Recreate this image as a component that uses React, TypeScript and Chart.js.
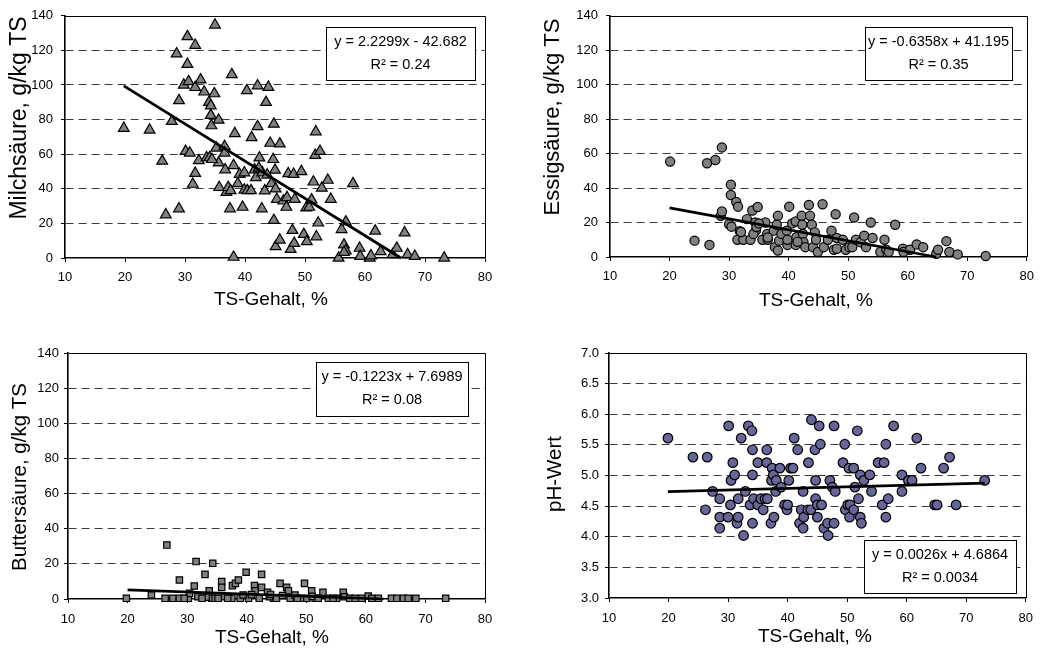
import { useEffect, useRef } from 'react';
import { Chart, registerables } from 'chart.js';

Chart.register(...registerables);

const FONT = "'Liberation Sans', Arial, Helvetica, sans-serif";

// ---------- axes ----------
const xAxisTitle = 'TS-Gehalt, %';
const xTickValues = [10, 20, 30, 40, 50, 60, 70, 80];
const acidTickValues = [0, 20, 40, 60, 80, 100, 120, 140];
const phTickValues = [3.0, 3.5, 4.0, 4.5, 5.0, 5.5, 6.0, 6.5, 7.0];

// ---------- Milchsäure ----------
const milchTitle = 'Milchsäure, g/kg TS';
const milchX = [19.8,24.1,26.2,26.8,27.8,28.6,29.0,29.0,29.8,30.1,30.4,30.4,30.6,30.8,31.3,31.7,31.7,31.7,32.3,32.6,33.2,33.6,34.1,34.0,34.3,34.3,34.4,34.9,35.0,35.2,35.6,35.6,35.7,36.6,36.6,36.7,36.9,37.2,37.5,37.6,37.8,38.1,38.1,38.3,38.8,39.1,39.6,39.9,39.9,40.3,40.4,41.0,41.1,41.6,41.8,42.1,42.1,42.4,42.8,42.9,43.3,43.5,43.9,44.2,44.4,44.7,44.8,44.8,45.0,45.1,45.1,45.3,45.8,45.8,46.4,46.9,47.0,47.2,47.6,47.9,48.1,48.2,48.3,49.4,49.8,50.2,50.3,50.7,51.1,51.4,51.7,51.8,51.9,52.2,52.5,52.8,53.8,54.3,55.6,56.1,56.5,56.8,56.8,58.0,59.1,59.2,60.8,61.0,61.7,62.6,64.6,65.3,66.6,67.1,68.3,73.2,34.5,42.3,43.7,56.5];
const milchY = [75,74,56,25,79,118,91,28.5,100,61.7,128,112,102,60.7,42.7,49,123,98.6,56.3,103,96,58,58,90,88,82.5,76.5,95,134.7,63.6,79.7,55,40.8,64.5,60.7,51,38,40.8,28.5,39,106,0.5,53.5,72,43,48.4,29.4,49.3,39.3,96.8,39,39,69.6,51,46.5,99.6,76,57.9,28.5,49.3,38.9,90,98.7,66.4,43,57,77.4,21.8,50.8,6.6,40,34,10.4,66,33,29.4,35,48.8,5,16,48.4,8.5,34,50,13.7,29,9.5,29.4,33.6,44,59.4,73,12.3,20.3,61.7,40.4,45,34,0,16.5,7.6,20.9,4.2,43,5.7,1,0,1.3,15.6,3.8,2,5.7,14.6,2,1,0,57,52,48,3.3];
const milchTrendX = [19.8, 66.0];
const milchTrendY = [99.5, 0];
const milchEquation = ['y = 2.2299x - 42.682', 'R² = 0.24'];

// ---------- Essigsäure ----------
const essigTitle = 'Essigsäure, g/kg TS';
const essigX = [20.1,24.2,26.3,26.7,27.7,28.8,28.6,28.8,30.3,30.3,30.0,30.4,31.2,31.5,31.8,31.4,32.4,33.0,33.6,33.9,34.4,34.5,34.8,34.1,35.6,36.1,36.4,36.5,37.5,37.7,38.2,38.2,38.4,38.0,38.8,39.7,40.1,39.8,39.8,40.6,41.2,41.3,41.2,42.2,42.3,42.4,42.5,42.8,43.4,43.6,43.9,44.4,44.1,44.9,44.6,45.7,45.9,46.6,47.2,47.6,47.9,48.1,48.1,49.1,49.6,50.2,50.7,51.0,51.3,52.1,52.7,53.0,53.8,54.1,55.4,56.1,56.4,56.8,57.9,59.2,59.3,60.4,61.5,62.6,64.8,65.1,66.5,67.0,68.4,73.1,32.0,34.6,36.5,41.5,35.0];
const essigY = [55.4,9.5,54.4,7,56.3,63.6,23.9,26.4,42,36,19,17.6,31.9,29.2,15,10,10,22,10,27,20,15.3,29,13.4,10,20,13.4,10,15.3,5.7,23.9,3.8,9.5,18.7,13.4,15.3,29.2,7,10,19.5,20.6,11.5,7,23.9,18.7,13.4,8.6,5.7,30.2,23.9,18.7,14.3,5.7,2.9,10,30.6,5.7,10,15.3,4.2,24.8,11,4.8,10,4.2,5.7,5.7,22.9,10,8.6,12.4,5.7,20,11,2.9,10,4.2,2.9,18.7,4.8,2.9,4.2,7.3,5.7,1.9,4.2,9.2,2.9,1.5,0.6,14.5,17.4,11.3,8.8,19.5];
const essigTrendX = [20.0, 64.8];
const essigTrendY = [28.48, 0];
const essigEquation = ['y = -0.6358x + 41.195', 'R² = 0.35'];

// ---------- Buttersäure ----------
const butterTitle = 'Buttersäure, g/kg TS';
const butterX = [19.8,24.0,26.6,26.3,27.6,28.7,28.7,30.2,30.4,31.2,31.5,31.8,33.0,33.7,34.3,34.1,34.7,35.8,35.8,36.3,37.6,38.1,38.6,37.5,38.9,39.9,40.3,41.3,41.4,42.1,42.5,42.5,43.5,44.5,45.6,46.7,47.0,47.3,48.1,49.1,49.7,50.1,50.9,51.5,52.8,53.7,55.1,56.2,56.4,57.3,58.2,59.3,60.4,61.0,62.1,64.3,65.2,66.3,67.1,68.4,73.4,39.4,43.8,45.0,46.0,48.5,51.0,52.0,54.5,35.2,36.8,40.8,44.0,33.2,29.5,32.5];
const butterY = [0.4,2.3,30.7,0.4,0.4,10.8,0.4,0.4,3.2,7.4,21.3,1.3,14,4.7,20.3,0.4,0.4,9.9,6.6,1.3,7.6,8.9,10.8,0.4,0.4,15.2,0.4,7.6,4.7,0.4,14,6.6,3.8,0.4,8.9,6.6,4.7,0.4,2.3,0.4,8.9,0.4,4.7,0.4,3.8,0.4,0.4,3.8,1.3,0.4,0.4,0.4,1.7,0.4,0.4,0.4,0.4,0.4,0.4,0.4,0.4,2.3,1.3,0.4,2.0,0.4,1.5,0.4,0.4,0.4,0.4,2.5,2.6,1.0,0.4,0.4];
const butterTrendX = [20.0, 62.95];
const butterTrendY = [5.25, 0];
const butterEquation = ['y = -0.1223x + 7.6989', 'R² = 0.08'];

// ---------- pH ----------
const phTitle = 'pH-Wert';
const phX = [19.9,24.1,26.5,26.2,27.4,28.6,28.6,28.6,30.1,30.0,30.4,30.5,30.8,31.1,31.5,31.7,31.7,32.2,32.6,32.9,33.4,33.7,34.0,34.1,34.1,34.1,34.3,35.0,35.0,35.5,35.9,36.2,36.5,36.5,36.6,37.2,37.3,37.4,37.6,37.7,38.0,38.1,38.7,38.9,39.5,39.9,40.0,40.2,40.5,40.9,41.1,41.7,42.0,42.3,42.6,42.6,42.7,43.4,43.5,43.9,44.0,44.6,44.7,44.7,45.0,45.0,45.3,45.5,45.7,46.1,46.7,46.8,47.1,47.5,47.8,47.8,48.0,49.3,49.6,49.7,50.1,50.3,50.4,50.5,51.1,51.1,51.3,51.7,51.9,52.2,52.2,52.4,52.8,53.8,54.1,55.2,55.9,56.2,56.5,56.5,56.9,57.8,59.2,59.2,60.3,60.9,61.7,62.4,64.7,65.1,66.2,67.2,68.3,73.1];
const phY = [5.61,5.30,5.30,4.44,4.74,4.62,4.32,4.14,5.81,4.32,4.52,4.92,5.21,5.01,4.22,4.62,4.32,5.61,4.02,4.74,5.81,4.52,5.73,5.42,5.01,4.22,4.62,5.21,4.52,4.62,4.44,4.62,5.42,5.21,4.62,4.22,4.92,5.12,5.01,4.32,4.74,4.92,5.12,4.81,4.52,4.44,4.52,4.92,5.12,5.12,5.61,5.42,4.22,4.44,4.74,4.14,4.32,4.44,5.21,4.44,5.91,5.42,4.92,4.62,4.52,4.32,5.81,5.51,4.52,4.14,4.22,4.02,4.92,4.81,5.81,4.22,4.74,5.21,5.51,4.44,4.52,5.12,4.32,4.52,5.12,4.44,4.81,5.73,4.62,5.01,4.32,4.22,4.92,5.01,4.74,5.21,4.52,5.21,5.51,4.32,4.62,5.81,5.01,4.74,4.92,4.92,5.61,5.12,4.52,4.52,5.12,5.30,4.52,4.92];
const phTrendX = [19.9, 73.1];
const phTrendY = [4.738, 4.876];
const phEquation = ['y = 0.0026x + 4.6864', 'R² = 0.0034'];

const toPoints = (xs: number[], ys: number[]) => xs.map((x, i) => ({ x, y: ys[i] }));

type Panel = {
  left: number; top: number; w: number; h: number;
  xs: number[]; ys: number[]; tx: number[]; ty: number[];
  yTitle: string; yTicks: number[]; yDecimals: number;
  eq: string[];
  pointStyle: string; radius: number; fill: string;
  pad: { left: number; right: number; top: number; bottom: number };
  yAxisW: number; xAxisH: number;
  yTickPad: number; xTickPad: number;
  titles: { xcx: number; xcy: number; ycx: number; ycy: number; ySize: number };
  box: { right: number; top?: number; bottom?: number; w: number; h: number };
};

const eqBoxPlugin = {
  id: 'eqBox',
  afterDatasetsDraw(chart: any, _args: any, opts: any) {
    const { ctx, chartArea } = chart;
    const b = opts.box;
    const x = Math.round(chartArea.right - b.right - b.w);
    const y = Math.round(b.top != null ? chartArea.top + b.top : chartArea.bottom - b.bottom - b.h);
    ctx.save();
    ctx.fillStyle = '#ffffff';
    ctx.fillRect(x, y, b.w, b.h);
    ctx.strokeStyle = '#000000';
    ctx.lineWidth = 1;
    ctx.strokeRect(x + 0.5, y + 0.5, b.w, b.h);
    ctx.fillStyle = '#000000';
    ctx.font = `14.5px ${FONT}`;
    ctx.textAlign = 'center';
    ctx.textBaseline = 'middle';
    ctx.fillText(opts.lines[0], x + b.w / 2, y + 15);
    ctx.fillText(opts.lines[1], x + b.w / 2, y + 38);
    ctx.restore();
  },
};

const axisTitlePlugin = {
  id: 'axisTitles',
  afterDraw(chart: any, _args: any, opts: any) {
    const { ctx } = chart;
    const t = opts.titles;
    ctx.save();
    ctx.fillStyle = '#000000';
    ctx.textAlign = 'center';
    ctx.textBaseline = 'middle';
    ctx.font = `19px ${FONT}`;
    ctx.fillText(opts.xText, t.xcx, t.xcy);
    ctx.translate(t.ycx, t.ycy);
    ctx.rotate(-Math.PI / 2);
    ctx.font = `${t.ySize}px ${FONT}`;
    ctx.fillText(opts.yText, 0, 0);
    ctx.restore();
  },
};

const framePlugin = {
  id: 'frame',
  beforeDatasetsDraw(chart: any) {
    const { ctx, chartArea } = chart;
    ctx.save();
    ctx.strokeStyle = '#000000';
    ctx.lineWidth = 1;
    ctx.beginPath();
    ctx.moveTo(Math.round(chartArea.left), Math.round(chartArea.top) + 0.5);
    ctx.lineTo(Math.round(chartArea.right) + 0.5, Math.round(chartArea.top) + 0.5);
    ctx.lineTo(Math.round(chartArea.right) + 0.5, Math.round(chartArea.bottom));
    ctx.stroke();
    ctx.restore();
  },
};

function ScatterPanel({ p }: { p: Panel }) {
  const ref = useRef<HTMLCanvasElement | null>(null);
  useEffect(() => {
    if (!ref.current) return;
    const yMin = p.yTicks[0];
    const yMax = p.yTicks[p.yTicks.length - 1];
    const chart = new Chart(ref.current, {
      type: 'scatter',
      data: {
        datasets: [
          {
            data: toPoints(p.tx, p.ty),
            showLine: true,
            borderColor: '#000000',
            borderWidth: 2.75,
            pointRadius: 0,
            order: 0,
            clip: false,
          } as any,
          {
            data: toPoints(p.xs, p.ys),
            pointStyle: p.pointStyle,
            pointRadius: p.radius,
            backgroundColor: p.fill,
            borderColor: '#000000',
            borderWidth: 1.2,
            order: 1,
            clip: false,
          } as any,
        ],
      },
      plugins: [framePlugin, eqBoxPlugin, axisTitlePlugin],
      options: {
        responsive: false,
        animation: false,
        events: [],
        layout: { padding: p.pad },
        plugins: {
          legend: { display: false },
          tooltip: { enabled: false },
          eqBox: { lines: p.eq, box: p.box },
          axisTitles: { xText: xAxisTitle, yText: p.yTitle, titles: p.titles },
        } as any,
        scales: {
          x: {
            type: 'linear',
            min: xTickValues[0],
            max: xTickValues[xTickValues.length - 1],
            afterBuildTicks: (s: any) => { s.ticks = xTickValues.map((v) => ({ value: v })); },
            afterFit: (s: any) => { s.height = p.xAxisH; },
            grid: {
              drawOnChartArea: false,
              drawTicks: true,
              tickLength: 4,
              tickColor: '#000000',
              tickWidth: 1,
            },
            border: { display: true, color: '#000000', width: 1.6 },
            ticks: {
              color: '#000000',
              padding: p.xTickPad,
              font: { family: FONT, size: 13 },
              maxRotation: 0,
              autoSkip: false,
              callback: (v: any) => String(v),
            },
            title: { display: false },
          },
          y: {
            type: 'linear',
            min: yMin,
            max: yMax,
            afterBuildTicks: (s: any) => { s.ticks = p.yTicks.map((v) => ({ value: v })); },
            afterFit: (s: any) => { s.width = p.yAxisW; },
            grid: {
              drawOnChartArea: true,
              drawTicks: true,
              tickLength: 4,
              tickColor: '#000000',
              tickWidth: 1,
              lineWidth: 1,
              color: (c: any) =>
                c.tick && (c.tick.value === yMin || c.tick.value === yMax) ? 'rgba(0,0,0,0)' : '#3c3c3c',
            },
            border: { display: true, color: '#000000', width: 1.6, dash: [8, 5] },
            ticks: {
              color: '#000000',
              padding: p.yTickPad,
              font: { family: FONT, size: 13 },
              autoSkip: false,
              callback: (v: any) => Number(v).toFixed(p.yDecimals),
            },
            title: { display: false },
          },
        },
      } as any,
    });
    return () => chart.destroy();
  }, [p]);
  return (
    <canvas
      ref={ref}
      width={p.w}
      height={p.h}
      style={{ position: 'absolute', left: p.left, top: p.top, width: p.w, height: p.h }}
    />
  );
}

const panels: Panel[] = [
  {
    left: 0, top: 0, w: 521, h: 325,
    xs: milchX, ys: milchY, tx: milchTrendX, ty: milchTrendY,
    yTitle: milchTitle, yTicks: acidTickValues, yDecimals: 0, eq: milchEquation,
    pointStyle: 'triangle', radius: 6.2, fill: '#808080',
    pad: { left: 0, right: 36, top: 12, bottom: 0 },
    yAxisW: 65, xAxisH: 67, yTickPad: 8, xTickPad: 8,
    titles: { xcx: 271, xcy: 300, ycx: 20, ycy: 118, ySize: 23 },
    box: { right: 10, top: 11, w: 149, h: 53 },
  },
  {
    left: 521, top: 0, w: 521, h: 325,
    xs: essigX, ys: essigY, tx: essigTrendX, ty: essigTrendY,
    yTitle: essigTitle, yTicks: acidTickValues, yDecimals: 0, eq: essigEquation,
    pointStyle: 'circle', radius: 4.6, fill: '#808080',
    pad: { left: 0, right: 9, top: 12, bottom: 0 },
    yAxisW: 89, xAxisH: 68, yTickPad: 8, xTickPad: 8,
    titles: { xcx: 295, xcy: 301, ycx: 32, ycy: 117, ySize: 22 },
    box: { right: 15, top: 11, w: 147, h: 53 },
  },
  {
    left: 0, top: 325, w: 521, h: 324,
    xs: butterX, ys: butterY, tx: butterTrendX, ty: butterTrendY,
    yTitle: butterTitle, yTicks: acidTickValues, yDecimals: 0, eq: butterEquation,
    pointStyle: 'rect', radius: 4.5, fill: '#808080',
    pad: { left: 0, right: 36, top: 28, bottom: 0 },
    yAxisW: 68, xAxisH: 50, yTickPad: 5, xTickPad: 9,
    titles: { xcx: 272, xcy: 313, ycx: 20, ycy: 152, ySize: 20.5 },
    box: { right: 17, top: 9, w: 152, h: 54 },
  },
  {
    left: 521, top: 325, w: 521, h: 324,
    xs: phX, ys: phY, tx: phTrendX, ty: phTrendY,
    yTitle: phTitle, yTicks: phTickValues, yDecimals: 1, eq: phEquation,
    pointStyle: 'circle', radius: 4.8, fill: '#666699',
    pad: { left: 0, right: 9, top: 28, bottom: 0 },
    yAxisW: 88, xAxisH: 51, yTickPad: 6, xTickPad: 9,
    titles: { xcx: 294, xcy: 312, ycx: 34.5, ycy: 149, ySize: 20.5 },
    box: { right: 10, bottom: 5, w: 152, h: 53 },
  },
];

export default function App() {
  return (
    <div style={{ position: 'absolute', left: 0, top: 0, width: 1042, height: 649, background: '#ffffff', overflow: 'hidden' }}>
      {panels.map((p, i) => (
        <ScatterPanel key={i} p={p} />
      ))}
    </div>
  );
}
